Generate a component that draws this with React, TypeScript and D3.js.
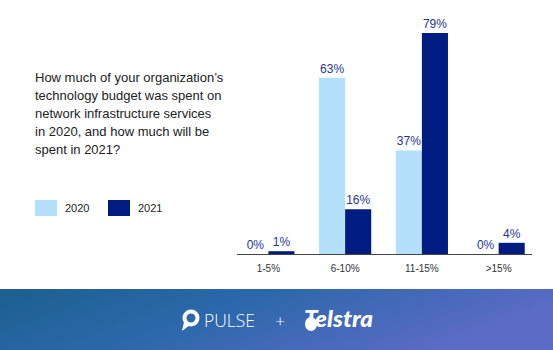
import React from "react";
import * as d3 from "d3";

const categories = ["1-5%", "6-10%", "11-15%", ">15%"];
const seriesNames = ["2020", "2021"];
const values2020 = [0, 63, 37, 0];
const values2021 = [1, 16, 79, 4];
const titleLines = [
  "How much of your organization\u2019s",
  "technology budget was spent on",
  "network infrastructure services",
  "in 2020, and how much will be",
  "spent in 2021?",
];

const W = 553;
const H = 350;
const colors = ["#b4e0fc", "#011c80"];
const labelColor = "#1f3593";
const font = "'Liberation Sans', Arial, Helvetica, sans-serif";

export default function App() {
  const x = d3
    .scaleBand<string>()
    .domain(categories)
    .range([230, 537])
    .paddingInner(0.32)
    .paddingOuter(0.16);
  const xs = d3.scaleBand<string>().domain(seriesNames).range([0, x.bandwidth()]);
  const y = d3.scaleLinear().domain([0, 79]).range([254, 33]);
  const series = [values2020, values2021];

  return (
    <div style={{ position: "fixed", left: 0, top: 0 }}>
      <svg width={W} height={H} style={{ display: "block" }}>
        <defs>
          <linearGradient id="foot" x1="0" y1="0" x2="1" y2="0.3">
            <stop offset="0" stopColor="#1d5f8f" />
            <stop offset="0.45" stopColor="#2b68aa" />
            <stop offset="1" stopColor="#5c6bc6" />
          </linearGradient>
        </defs>
        <rect x={0} y={0} width={W} height={H} fill="#fff" />
        {titleLines.map((t, i) => (
          <text key={i} x={35} y={82 + i * 18} fontFamily={font} fontSize={13} fill="#222">
            {t}
          </text>
        ))}
        {seriesNames.map((s, i) => (
          <g key={s} transform={`translate(${35 + i * 73},200)`}>
            <rect width={22} height={16} fill={colors[i]} />
            <text x={30} y={12} fontFamily={font} fontSize={11} fill="#222">
              {s}
            </text>
          </g>
        ))}
        {categories.map((c, ci) =>
          series.map((vals, si) => {
            const bx = (x(c) as number) + (xs(seriesNames[si]) as number);
            const bw = xs.bandwidth();
            const v = vals[ci];
            return (
              <g key={c + si}>
                {v > 0 && (
                  <rect x={bx} y={y(v)} width={bw} height={y(0) - y(v)} fill={colors[si]} />
                )}
                <text
                  x={bx + bw / 2}
                  y={y(v) - 5}
                  textAnchor="middle"
                  fontFamily={font}
                  fontSize={12}
                  fill={labelColor}
                >
                  {v}%
                </text>
              </g>
            );
          })
        )}
        <line x1={237} x2={532} y1={254.5} y2={254.5} stroke="#444" strokeWidth={1} />
        {categories.map((c) => (
          <text
            key={c}
            x={(x(c) as number) + x.bandwidth() / 2}
            y={272}
            textAnchor="middle"
            fontFamily={font}
            fontSize={10}
            fill="#333"
          >
            {c}
          </text>
        ))}
        <rect x={0} y={289} width={W} height={H - 289} fill="url(#foot)" />
        <g fill="#fff">
          <circle cx={191} cy={318} r={6.5} fill="none" stroke="#fff" strokeWidth={4} />
          <path d="M184.5,320 L182,331 L190,325 Z" />
          <text x={204} y={327} fontFamily="'Open Sans', sans-serif" fontWeight={300} fontSize={17.5} fill="#fff">
            PULSE
          </text>
          <text x={280} y={327} textAnchor="middle" fontFamily="'Open Sans', sans-serif" fontWeight={300} fontSize={17} fill="#fff">
            +
          </text>
          <ellipse cx={311} cy={324} rx={6} ry={7} />
          <text
            x={304}
            y={327}
            fontFamily="Lato, sans-serif"
            fontWeight={900}
            fontStyle="italic"
            fontSize={22}
            textLength={69}
            lengthAdjust="spacingAndGlyphs"
            fill="#fff"
          >
            Telstra
          </text>
        </g>
      </svg>
    </div>
  );
}
